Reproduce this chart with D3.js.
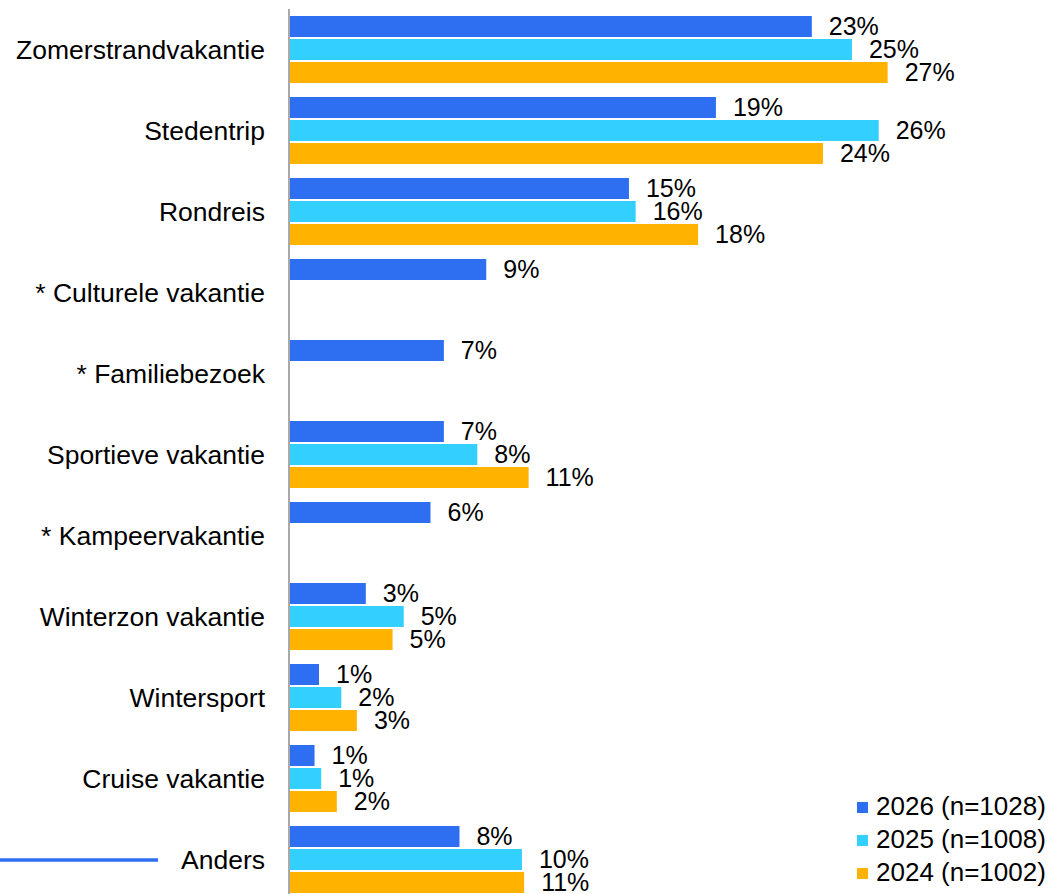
<!DOCTYPE html>
<html>
<head>
<meta charset="utf-8">
<script src="https://cdn.jsdelivr.net/npm/d3@7"></script>
<style>
  body { margin: 0; background: #fff; }
  svg { display: block; font-family: Arial, "Liberation Sans", sans-serif; }
</style>
</head>
<body>
<svg width="1051" height="894"></svg>
<script>
const categories = ["Zomerstrandvakantie", "Stedentrip", "Rondreis", "* Culturele vakantie",
    "* Familiebezoek", "Sportieve vakantie", "* Kampeervakantie", "Winterzon vakantie",
    "Wintersport", "Cruise vakantie", "Anders"];
const seriesNames = ["2026 (n=1028)", "2025 (n=1008)", "2024 (n=1002)"];
const values2026 = [23.4, 19.1, 15.2, 8.8, 6.9, 6.9, 6.3, 3.4, 1.3, 1.1, 7.6];
const values2025 = [25.2, 26.4, 15.5, null, null, 8.4, null, 5.1, 2.3, 1.4, 10.4];
const values2024 = [26.8, 23.9, 18.3, null, null, 10.7, null, 4.6, 3.0, 2.1, 10.5];
const colors = ["#2e6ff2", "#33cfff", "#ffb300"];

const svg = d3.select("svg");
const x0 = 289;

const series = [values2026, values2025, values2024];
const data = [];
categories.forEach((c, i) => {
    series.forEach((s, j) => {
        if (s[i] != null) data.push({ cat: c, s: j, v: s[i] });
    });
});

const x = d3.scaleLinear().domain([0, 30]).range([0, 669]);
const y = d3.scaleBand().domain(categories).range([10, 10 + 81 * categories.length]);
const ySub = d3.scaleBand().domain([0, 1, 2]).range([6, 75]);

const g = svg.append("g").attr("transform", `translate(${x0},0)`);

g.selectAll("rect.bar")
    .data(data)
    .enter()
    .append("rect")
    .attr("class", "bar")
    .attr("x", 1)
    .attr("y", d => y(d.cat) + ySub(d.s))
    .attr("width", d => x(d.v))
    .attr("height", 21)
    .attr("fill", d => colors[d.s]);

g.selectAll("text.val")
    .data(data)
    .enter()
    .append("text")
    .attr("class", "val")
    .attr("x", d => x(d.v) + 18)
    .attr("y", d => y(d.cat) + ySub(d.s) + 12)
    .attr("dominant-baseline", "middle")
    .attr("font-size", 25)
    .attr("fill", "#000")
    .text(d => Math.round(d.v) + "%");

// category axis
const yAxis = d3.axisLeft(y).tickSize(0).tickPadding(24);
const ax = g.append("g").call(yAxis);
ax.select(".domain").remove();
ax.selectAll("text")
    .attr("font-size", 26.5)
    .attr("font-family", "Arial, 'Liberation Sans', sans-serif")
    .attr("fill", "#000");

g.append("line")
    .attr("x1", 0).attr("x2", 0)
    .attr("y1", 9).attr("y2", 894)
    .attr("stroke", "#8c8c8c")
    .attr("stroke-width", 1.5);

// line at bottom left
svg.append("line")
    .attr("x1", 0).attr("x2", 158)
    .attr("y1", 860).attr("y2", 860)
    .attr("stroke", colors[0])
    .attr("stroke-width", 3.5);

// legend
const legend = svg.append("g").attr("transform", "translate(857,802)");
const items = legend.selectAll("g")
    .data(seriesNames)
    .enter()
    .append("g")
    .attr("transform", (d, i) => `translate(0,${i * 33})`);
items.append("rect")
    .attr("width", 11).attr("height", 11)
    .attr("fill", (d, i) => colors[i]);
items.append("text")
    .attr("x", 19)
    .attr("y", 6.5)
    .attr("dominant-baseline", "middle")
    .attr("font-size", 26)
    .text(d => d);
</script>
</body>
</html>
